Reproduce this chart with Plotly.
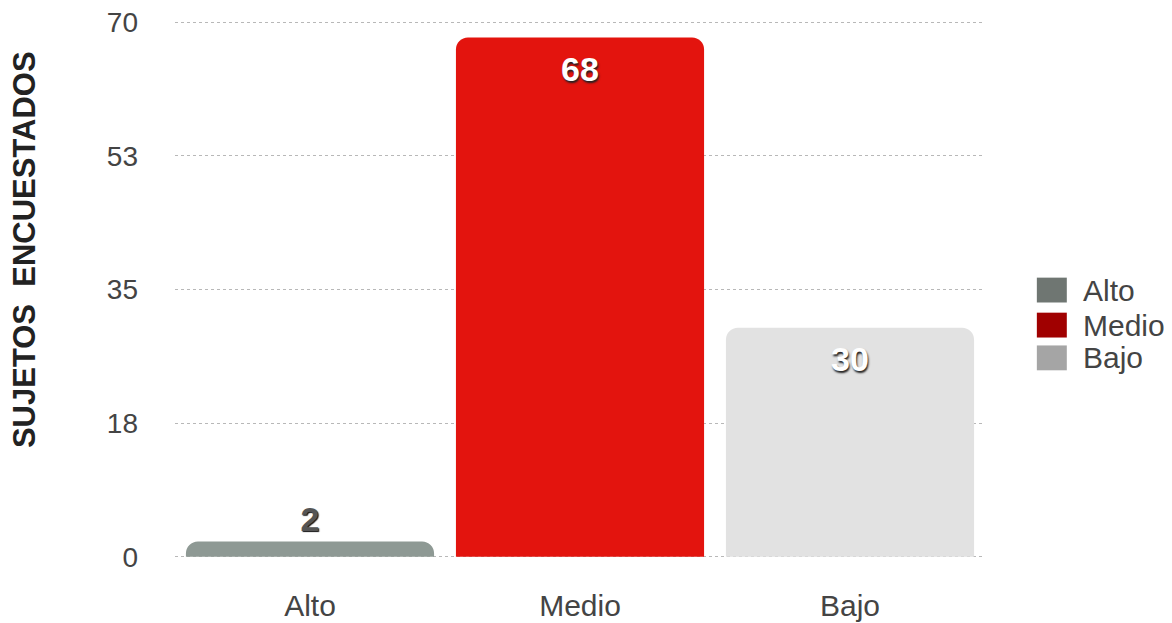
import plotly.graph_objects as go

categories = ["Alto", "Medio", "Bajo"]
values = [2, 68, 30]
bar_colors = ["#8e9994", "#e3140e", "#e2e2e2"]
legend_colors = ["#6f7672", "#a00000", "#a5a5a5"]
tick_vals = [0, 17.5, 35, 52.5, 70]
tick_text = ["0", "18", "35", "53", "70"]
y_title = "SUJETOS  ENCUESTADOS"

FONT = "Liberation Sans, Arial, Helvetica, sans-serif"

fig = go.Figure()

fig.add_trace(go.Bar(
    x=categories,
    y=values,
    marker=dict(color=bar_colors, line=dict(width=0), cornerradius=12),
    text=[str(v) for v in values],
    textposition=["outside", "inside", "inside"],
    insidetextanchor="end",
    textfont=dict(family=FONT, size=34, color=["#555555", "white", "white"],
                  weight="bold", shadow="1px 2px 2px #222"),
    outsidetextfont=dict(family=FONT, size=34, color="#555555", weight="bold",
                         shadow="1px 1px 1px #111"),
    cliponaxis=False,
    showlegend=False,
    hoverinfo="x+y",
))

# custom legend with larger swatches
leg_x0 = 1.064
leg_rows = [0.522, 0.460, 0.402]
shapes = []
annotations = []
for cat, col, yc in zip(categories, legend_colors, leg_rows):
    shapes.append(dict(type="rect", xref="paper", yref="paper",
                       x0=leg_x0, x1=leg_x0 + 0.037,
                       y0=yc - 0.022, y1=yc + 0.022,
                       fillcolor=col, line=dict(width=0)))
    annotations.append(dict(xref="paper", yref="paper", x=leg_x0 + 0.054, y=yc,
                            text=cat, showarrow=False, xanchor="left",
                            yanchor="middle",
                            font=dict(family=FONT, size=30, color="#444444")))

annotations.append(dict(xref="paper", yref="paper", x=-0.185, y=0.593,
                        text=y_title, textangle=-90, showarrow=False,
                        xanchor="center", yanchor="middle",
                        font=dict(family=FONT, size=31, color="#222222",
                                  weight="bold")))

fig.update_layout(
    width=1164, height=615,
    margin=dict(l=167, r=187, t=12, b=38),
    paper_bgcolor="white", plot_bgcolor="white",
    bargap=0.081,
    font=dict(family=FONT, color="#444444"),
    showlegend=False,
    shapes=shapes,
    annotations=annotations,
    xaxis=dict(showgrid=False, showline=False, ticks="", automargin=False,
               tickfont=dict(size=30, color="#444444")),
    yaxis=dict(range=[-3.7, 70.3], tickvals=tick_vals, ticktext=tick_text,
               automargin=False, ticklabeloverflow="allow",
               showgrid=True, gridcolor="#b8b8b8", griddash="dot", gridwidth=1,
               zeroline=False, showline=False, ticks="",
               ticklabelstandoff=36,
               tickfont=dict(size=28, color="#444444")),
)

fig.write_html("out.html")
